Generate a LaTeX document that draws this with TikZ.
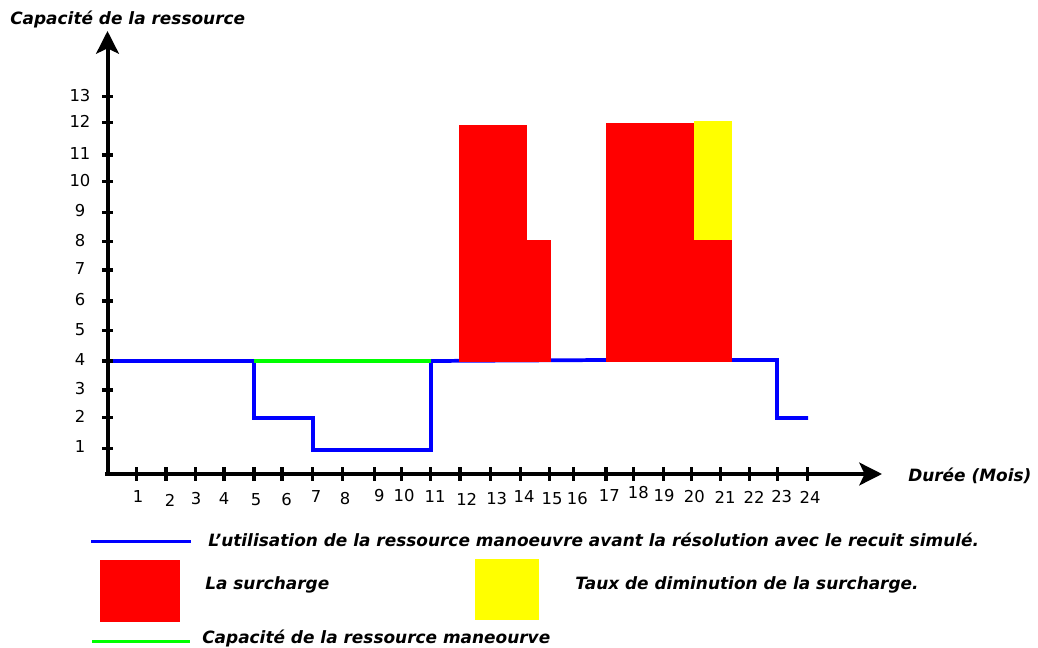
\documentclass[tikz,border=0pt]{standalone}
\usepackage{fontspec}
\setmainfont{DejaVu Sans}
\usetikzlibrary{arrows.meta}
\definecolor{cblue}{RGB}{0,0,255}
\definecolor{cred}{RGB}{255,0,0}
\definecolor{cyellow}{RGB}{255,255,0}
\definecolor{cgreen}{RGB}{0,255,0}
\tikzset{
  axisline/.style={line width=3pt, -{Stealth[length=17pt,width=17pt,inset=4pt]}},
  tickmark/.style={line width=2.6pt},
  ticklab/.style={font=\fontsize{12.3}{14}\selectfont, inner sep=0pt},
  legtext/.style={font=\fontsize{12.7}{15}\selectfont\bfseries\itshape, inner sep=0pt, anchor=west},
  usage/.style={draw=cblue, line width=2.8pt},
  capline/.style={draw=cgreen, line width=2.8pt},
  overload/.style={fill=cred},
  reduction/.style={fill=cyellow}
}
\begin{document}
\begin{tikzpicture}[x=0.75pt,y=-0.75pt]
\useasboundingbox (0,0) rectangle (1038,648);
% usage line (blue), under the overload blocks
\draw[usage, line join=miter] (107,361) -- (254,361) -- (254,418) -- (313,418) -- (313,450) -- (431,450) -- (431,361) -- (606,360) -- (777,360) -- (777,418) -- (808,418);
% capacity (green)
\draw[capline] (254,361) -- (431,361);
% overload blocks
\fill[overload] (459,125) rectangle (527,361.5);
\fill[overload] (527,240.5) rectangle (551,361.5);
\fill[overload] (606,123) rectangle (732,361.5);
\fill[reduction] (694,121.5) rectangle (732,240);
% axes
\coordinate (O) at (107.5,475);
\coordinate (ytop) at (107.5,31);
\coordinate (xend) at (882,474);
\draw[axisline] (O) -- (ytop);
\draw[axisline] (105,474) -- (xend);
% y ticks
\foreach \v/\yy in {1/448.3,2/417.7,3/390,4/361,5/330.7,6/301,7/270,8/241.7,9/212.3,10/181.7,11/155,12/122.7,13/96.7}{
  \draw[tickmark] (102,\yy) -- (113,\yy);
  \node[ticklab] (ylab\v) at (80,\yy-1.5) {\v};
}
% x ticks
\foreach \v/\xx/\ly/\lx in {1/136.7/497/138,2/166/500/170,3/195.7/499/196,4/224/499/224,5/254/500/256,6/282/500/286.7,7/312.7/496.7/316,8/342.7/499/345,9/374.7/496/379.3,10/401.7/496/404,11/430.7/497/435,12/460/499/466.7,13/490.7/499/496.7,14/520.7/497/524,15/549.3/499/552,16/573.3/499/577.3,17/606/496/609.3,18/633.3/493/638.3,19/663.3/496/664,20/691.7/497/694.3,21/720.7/497/725,22/749.3/497/754,23/777.3/497/781.7,24/807.3/497/810}{
  \draw[tickmark] (\xx,467) -- (\xx,481);
  \node[ticklab] (xlab\v) at (\lx,\ly) {\v};
}
% axis titles
\node[legtext] (ytitle) at (10,19) {Capacité de la ressource};
\node[legtext] (xtitle) at (908,476) {Durée (Mois)};
% legend
\coordinate (lb1) at (91,541.5);
\coordinate (lb2) at (191,541.5);
\draw[usage] (lb1) -- (lb2);
\node[legtext] (lbt) at (208,540) {L'utilisation de la ressource manoeuvre avant la résolution avec le recuit simulé.};
\fill[overload] (100,560) rectangle (180,621.5);
\node[legtext] (lrt) at (205,585) {La surcharge};
\fill[reduction] (475,558.5) rectangle (538.5,620);
\node[legtext] (lyt) at (575,585) {Taux de diminution de la surcharge.};
\coordinate (lg1) at (92,641.5);
\coordinate (lg2) at (190,641.5);
\draw[capline] (lg1) -- (lg2);
\node[legtext] (lgt) at (202,638) {Capacité de la ressource maneourve};
\end{tikzpicture}
\end{document}
